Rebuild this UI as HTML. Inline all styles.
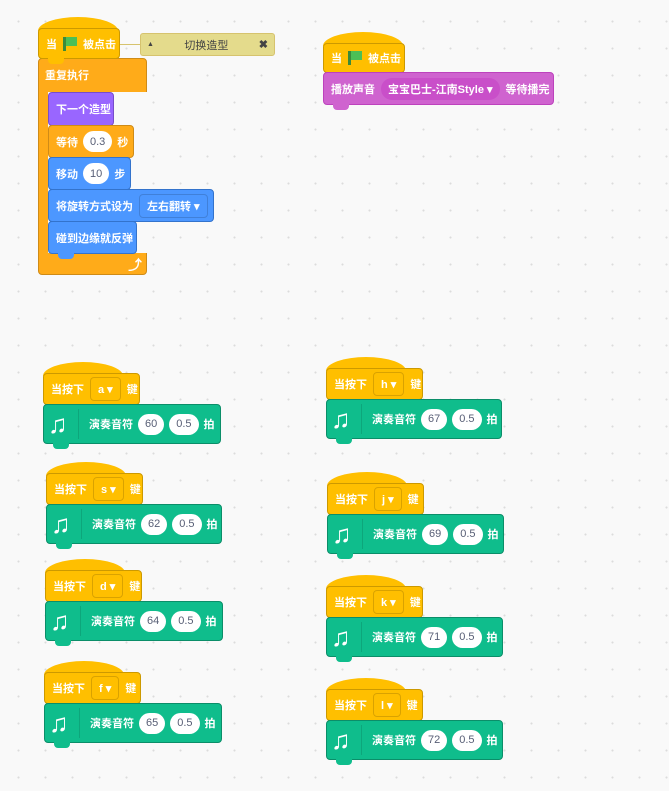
<!DOCTYPE html>
<html><head><meta charset="utf-8"><style>
body{margin:0;width:669px;height:791px;overflow:hidden;background-color:#f9f9f9;
background-image:radial-gradient(circle,#dcdcdc 0.8px,transparent 1.2px);background-size:27px 27px;background-position:5px 8px;
font-family:"Liberation Sans","Noto Sans CJK SC",sans-serif;position:relative}
.b{position:absolute;box-sizing:border-box;border-radius:4px;color:#fff;font-size:11px;font-weight:bold;display:flex;align-items:center;padding-left:7px;white-space:nowrap}
.hump{position:absolute;border-radius:50% 50% 0 0/100% 100% 0 0}
.n{position:absolute;width:16px;height:6px;border-radius:0 0 4px 4px}
.ov{background:#fff;color:#575e75;border-radius:11px;height:21px;padding:0 7px;display:inline-flex;align-items:center;margin:0 5px;font-size:11px;font-weight:normal}
.dd{border:1px solid rgba(0,0,0,.15);border-radius:4px;height:22px;padding:0 7px;display:inline-flex;align-items:center;margin:0 6px;font-size:11px}
</style></head><body>
<div id="c"></div>
<script>
var c=document.getElementById('c'),h='';
function blk(x,y,w,hh,col,bd,inner,notch,hump,z){
 if(hump) h+='<div class="hump" style="left:'+x+'px;top:'+(y-11)+'px;width:80px;height:14px;background:'+col+';z-index:'+(z||1)+'"></div>';
 h+='<div class="b" style="left:'+x+'px;top:'+y+'px;width:'+w+'px;height:'+hh+'px;background:'+col+';border:1px solid '+bd+';z-index:'+(z||1)+'">'+inner+'</div>';
 if(notch) h+='<div class="n" style="left:'+(x+10)+'px;top:'+(y+hh-1)+'px;background:'+col+';z-index:'+((z||1)+1)+'"></div>';
}
var Y='#FFBF00',YB='#CC9900',G='#0FBD8C',GB='#0B8E69';
var flag='<span style="display:inline-block;width:3px;height:14px;background:#3a8a3a;margin:0 0 0 6px"></span><span style="display:inline-block;width:11px;height:9px;background:#4cbf56;margin:-5px 6px 0 0"></span>';
// script1
blk(38,28,82,31,Y,YB,'当'+flag+'被点击',1,1,3);
h+='<div style="position:absolute;left:120px;top:44px;width:20px;height:1px;background:#d6c36e"></div>';
h+='<div style="position:absolute;left:140px;top:33px;width:135px;height:23px;box-sizing:border-box;background:#e4db8c;border:1px solid #d6c36e;border-radius:3px;font-size:11px;color:#444;display:flex;align-items:center;justify-content:space-between;padding:0 6px"><span style="font-size:7px">▲</span><span>切换造型</span><b>✖</b></div>';
h+='<div style="position:absolute;left:38px;top:58px;width:109px;height:217px;background:#FFAB19;border:1px solid #CF8B17;box-sizing:border-box;border-radius:4px;z-index:1"></div>';
h+='<div class="b" style="left:38px;top:63px;width:100px;height:24px;z-index:2">重复执行</div>';
h+='<div style="position:absolute;left:48px;top:92px;width:99px;height:161px;background:#f9f9f9;z-index:1"></div>';
h+='<div style="position:absolute;left:128px;top:255px;color:#fff;font-size:14px;font-weight:bold;z-index:3">⤴</div>';
blk(48,92,66,34,'#9966FF','#774DCB','下一个造型',1,0,4);
blk(48,125,86,33,'#FFAB19','#CF8B17','等待<span class="ov">0.3</span>秒',1,0,5);
blk(48,157,83,33,'#4C97FF','#3373CC','移动<span class="ov">10</span>步',1,0,6);
blk(48,189,166,33,'#4C97FF','#3373CC','将旋转方式设为<span class="dd">左右翻转 ▾</span>',1,0,7);
blk(48,221,89,33,'#4C97FF','#3373CC','碰到边缘就反弹',1,0,8);
// script2
blk(323,43,82,30,Y,YB,'当'+flag+'被点击',1,1,3);
blk(323,72,231,33,'#CF63CF','#BD42BD','播放声音<span class="dd" style="background:#c94fc9;border-radius:12px;border:none">宝宝巴士-江南Style ▾</span>等待播完',1,0,4);
var note='<span style="width:30px;font-size:26px;margin-left:-3px;font-weight:bold">♫</span><span style="width:1px;height:30px;background:rgba(0,0,0,.12);margin-right:10px"></span>';
function key(x,y,k,n,w){
 blk(x,y,97,32,Y,YB,'当按下<span class="dd">'+k+' ▾</span>键',1,1,3);
 blk(x,y+31,w,40,G,GB,note+'演奏音符<span class="ov">'+n+'</span><span class="ov" style="margin-left:0">0.5</span>拍',1,0,4);
}
key(43,373,'a',60,178);key(46,473,'s',62,176);key(45,570,'d',64,178);key(44,672,'f',65,178);
key(326,368,'h',67,176);key(327,483,'j',69,177);key(326,586,'k',71,177);key(326,689,'l',72,177);
c.innerHTML=h;
</script>
</body></html>
